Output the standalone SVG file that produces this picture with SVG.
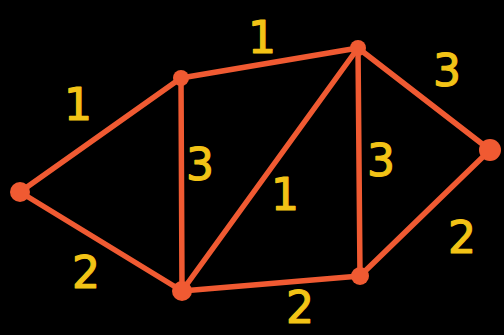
<svg xmlns="http://www.w3.org/2000/svg" width="504" height="335" viewBox="0 0 504 335">
<style>
.e{stroke:#f05a32;stroke-width:5.5;stroke-linecap:round;fill:none}
.n{fill:#f05a32}
.l{fill:#f2c316;stroke:#f2c316;stroke-width:1.2;stroke-linejoin:round;font-family:"DejaVu Sans",sans-serif;font-size:44px;text-anchor:middle;dominant-baseline:central}
</style>
<rect width="504" height="335" fill="#000"/>
<g id="edges">
<line class="e" x1="20" y1="192" x2="181" y2="78"/>
<line class="e" x1="20" y1="192" x2="182" y2="291"/>
<line class="e" x1="181" y1="78" x2="358" y2="48"/>
<line class="e" x1="181" y1="78" x2="182" y2="291"/>
<line class="e" x1="182" y1="291" x2="358" y2="48"/>
<line class="e" x1="358" y1="48" x2="360" y2="276"/>
<line class="e" x1="358" y1="48" x2="490" y2="150"/>
<line class="e" x1="490" y1="150" x2="360" y2="276"/>
<line class="e" x1="182" y1="291" x2="360" y2="276"/>
</g>
<g id="nA"><circle class="n" cx="20" cy="192" r="10"/></g>
<g id="nB"><circle class="n" cx="181" cy="78" r="8"/></g>
<g id="nC"><circle class="n" cx="358" cy="48" r="8"/></g>
<g id="nD"><circle class="n" cx="490" cy="150" r="11"/></g>
<g id="nE"><circle class="n" cx="360" cy="276" r="9"/></g>
<g id="nF"><circle class="n" cx="182" cy="291" r="10"/></g>
<g id="labels">
<text class="l" x="78" y="104">1</text>
<text class="l" x="262" y="37">1</text>
<text class="l" x="200" y="164">3</text>
<text class="l" x="285" y="194">1</text>
<text class="l" x="381" y="160">3</text>
<text class="l" x="447" y="70">3</text>
<text class="l" x="462" y="237">2</text>
<text class="l" x="86" y="272">2</text>
<text class="l" x="300" y="307">2</text>
</g>
</svg>
